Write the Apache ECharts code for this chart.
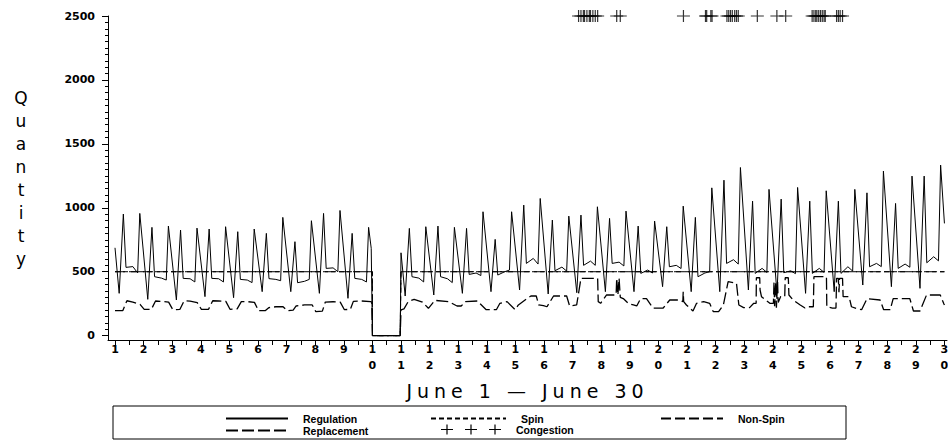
<!DOCTYPE html>
<html>
<head>
<meta charset="utf-8">
<script src="https://cdn.jsdelivr.net/npm/echarts@6/dist/echarts.min.js"></script>
<style>
  html, body { margin: 0; padding: 0; background: #fff; }
  #chart { width: 948px; height: 440px; }
  /* wide tracking for the x axis title, like the original */
  #chart text[style*="19px"] { letter-spacing: 5px; }
</style>
</head>
<body>
<div id="chart"></div>
<script>
// day labels on the x axis
const days = [1,2,3,4,5,6,7,8,9,10,11,12,13,14,15,16,17,18,19,20,21,22,23,24,25,26,27,28,29,30];
const yMajor = [0, 500, 1000, 1500, 2000, 2500];

// Regulation: key hours of the daily shape and the value read at each hour
// (night trough, morning peak, start of day plateau, plateau middle, plateau end, evening peak)
const regHours = [3.5, 7, 9.2, 15, 19, 20.8];
const regDays = [1,2,3,4,5,6,7,8,9,11,12,13,14,15,16,17,18,19,20,21,22,23,24,25,26,27,28,29];
const regRows = [
  [331, 951, 534, 540, 490, 956],
  [284, 847, 461, 450, 435, 857],
  [279, 826, 448, 445, 420, 841],
  [305, 834, 448, 445, 420, 852],
  [297, 813, 440, 435, 415, 834],
  [344, 800, 446, 440, 430, 925],
  [344, 735, 414, 425, 440, 899],
  [331, 956, 526, 530, 500, 979],
  [292, 800, 448, 440, 420, 847],
  [310, 839, 461, 450, 420, 852],
  [318, 857, 461, 445, 415, 847],
  [331, 839, 479, 490, 470, 969],
  [344, 753, 474, 500, 513, 969],
  [357, 1021, 565, 604, 560, 1073],
  [326, 904, 508, 536, 505, 935],
  [336, 943, 550, 583, 550, 1008],
  [344, 917, 565, 575, 545, 974],
  [344, 857, 487, 513, 490, 896],
  [383, 852, 539, 550, 525, 1013],
  [344, 925, 461, 490, 500, 1156],
  [344, 1216, 565, 594, 560, 1315],
  [357, 1052, 487, 526, 495, 1144],
  [331, 1068, 492, 507, 485, 1159],
  [331, 1052, 487, 526, 495, 1133],
  [344, 1052, 487, 539, 505, 1144],
  [396, 1117, 539, 565, 540, 1287],
  [383, 1034, 526, 560, 535, 1248],
  [370, 1248, 570, 617, 585, 1334]
];
// [day, hour, value] points outside the regular shape (start, outage on day 10, end)
const regExtra = [[1, 0, 687], [9, 23, 683], [10, 0, 0], [10, 23.3, 0], [11, 0, 648], [30, 0, 878]];

// Spin and Non-Spin requirement [day, hour, value]
const spinPts = [[1, 0, 500], [10, 0, 500], [10, 0.05, 0], [10, 23.3, 0], [11, 0, 500], [30, 0, 500]];
const nonSpinPts = [[1, 0, 500], [10, 0, 500], [10, 0.05, 0], [10, 23.3, 0], [11, 0, 500], [30, 0, 500]];

// Replacement [day, hour, value]
const repPts = [
  [1,0,195],[1,6.5,195],[1,10,273],[1,15,262],[1,21,245],
  [2,0.5,206],[2,6.5,206],[2,10,271],[2,15,268],[2,21,262],
  [3,0.5,203],[3,6.5,206],[3,10,273],[3,15,270],[3,21,258],
  [4,0.5,206],[4,6.5,206],[4,10,273],[4,15,271],[4,21,268],
  [5,0.5,206],[5,6.5,210],[5,10,266],[5,15,266],[5,21,260],
  [6,0.5,195],[6,6,195],[6,9,219],[6,15,226],[6,21,226],
  [7,0.5,195],[7,5.5,200],[7,8,232],[7,15,240],[7,21.5,240],
  [8,0.5,188],[8,6,192],[8,8.5,263],[8,15,265],[8,21,262],
  [9,0.5,203],[9,5.5,206],[9,8,268],[9,15,271],[9,22.5,266],[9,23.5,262],
  [10,0,0],[10,23.3,0],
  [11,0,201],[11,2.5,210],[11,6,266],[11,11,284],[11,18,262],[11,23,214],
  [12,4.5,276],[12,16,266],[12,23,232],
  [13,2.5,232],[13,6,266],[13,16,271],[13,23.5,203],
  [14,8,203],[14,11,253],[14,17,266],[14,23.8,203],
  [15,2.5,240],[15,9.5,289],[15,13,310],[15,17.5,310],[15,19.5,240],[15,23.5,235],
  [16,2.5,226],[16,8,310],[16,19,310],[16,21.5,232],
  [17,3.4,240],[17,7,448],[17,21,448],[17,21.5,266],[17,23.5,253],
  [18,4.5,318],[18,12.5,318],[18,13,448],[18,14,318],[18,15,448],[18,16,300],[18,18.5,290],[18,23,250],
  [19,3,240],[19,5.8,232],[19,9,289],[19,14,289],[19,19.5,216],
  [20,4,216],[20,9.5,279],[20,18,279],[20,20.5,266],[20,20.8,344],[20,21.2,266],[20,23.5,240],
  [21,5,193],[21,8,253],[21,14,266],[21,19,253],[21,22,188],
  [22,2.5,188],[22,6.5,240],[22,10.5,422],[22,17.5,410],[22,19.5,240],[22,23.5,219],
  [23,4.5,219],[23,8,253],[23,10,253],[23,10.2,453],[23,13,453],[23,13.3,357],[23,14.5,305],[23,21.5,253],
  [24,0.5,253],[24,1,420],[24,1.5,230],[24,2.5,420],[24,3,219],[24,4,420],[24,4.5,260],[24,6.5,305],
  [24,10,305],[24,10.4,453],[24,13,453],[24,13.5,318],[24,17,279],[24,23,240],
  [25,3,216],[25,5,226],[25,10,226],[25,10.5,461],[25,21,461],[25,21.3,226],
  [26,2,216],[26,5,216],[26,5.5,448],[26,7,448],[26,7.5,340],[26,8,448],[26,10.5,448],[26,11,305],
  [26,16,305],[26,18,226],[26,23,210],
  [27,2.5,203],[27,7,289],[27,18,279],[27,21,203],
  [28,2.5,203],[28,5,289],[28,19,289],[28,22,193],
  [29,3.5,193],[29,9,318],[29,20.5,318],[29,23.5,250],[30,0,240]
];

// Congestion hours [day, hour], plotted at the top of the axis
const conLevel = 2500;
const conPts = [
  [17,5],[17,7],[17,9],[17,10],[17,12],[17,14],[17,15],[17,17],[17,19],[17,21],
  [18,13],[18,16],
  [20,21],
  [21,15.5],[21,16.5],[21,20],[21,21],
  [22,9.5],[22,11],[22,12.5],[22,14],[22,16],[22,17.5],[22,19],
  [23,11],
  [24,3.4],[24,10.8],
  [25,9],[25,10.5],[25,12],[25,13],[25,14.5],[25,16],[25,17.5],[25,19],[25,20],
  [26,5.5],[26,7],[26,8.5],[26,10.5]
];

const toX = (d, h) => d + h / 24;
const regData = regExtra.map(p => [toX(p[0], p[1]), p[2]]);
regDays.forEach((d, i) => {
  regHours.forEach((h, j) => regData.push([toX(d, h), regRows[i][j]]));
});
regData.sort((a, b) => a[0] - b[0]);
const pts = arr => arr.map(p => [toX(p[0], p[1]), p[2]]);
const conData = conPts.map(p => [toX(p[0], p[1]), conLevel]);

const halfDays = days.flatMap(d => d < 30 ? [d, d + 0.5] : [d]);
const yMinor = [];
for (let v = 0; v <= 2500; v += 50) yMinor.push(v);

const plusPath = 'path://M0,5.4h13v1.2h-13z M5.9,0h1.2v12h-1.2z';
const plus3Path = 'path://M0,4.4h12v1.2h-12z M5.4,0h1.2v10h-1.2z M24,4.4h12v1.2h-12z M29.4,0h1.2v10h-1.2z M48,4.4h12v1.2h-12z M53.4,0h1.2v10h-1.2z';

const tickFont = { fontFamily: 'DejaVu Sans', fontWeight: 'bold', fontSize: 11, color: '#000' };
const legendText = { fontFamily: 'Liberation Sans', fontWeight: 'bold', fontSize: 10.5, lineHeight: 11, color: '#000', padding: [0, 0, 0, 10] };
const legendBase = {
  orient: 'horizontal', padding: 0, itemHeight: 8, itemWidth: 62, selectedMode: false,
  textStyle: legendText, itemStyle: { opacity: 0 }
};

const chart = echarts.init(document.getElementById('chart'), null, { renderer: 'svg' });
chart.setOption({
  animation: false,
  backgroundColor: '#fff',
  grid: { left: 108, right: 1, top: 16, bottom: 100, outerBoundsMode: 'none' },
  xAxis: {
    type: 'value', min: 0.755, max: 30.09,
    axisLine: { show: true, onZero: false, lineStyle: { color: '#000', width: 1 } },
    axisTick: { show: true, customValues: halfDays, length: 5, lineStyle: { color: '#000', width: 1 } },
    axisLabel: {
      customValues: days, margin: 1, lineHeight: 16, ...tickFont,
      formatter: v => String(v).split('').join('\n')
    },
    splitLine: { show: false },
    name: 'June 1 — June 30', nameLocation: 'middle', nameGap: 41,
    nameTextStyle: { fontFamily: 'DejaVu Sans', fontSize: 19, color: '#000' }
  },
  yAxis: [{
    type: 'value', min: -34, max: 2500,
    axisLine: { show: true, onZero: false, lineStyle: { color: '#000', width: 1 } },
    axisTick: { show: true, customValues: yMajor, length: 6, lineStyle: { color: '#000', width: 1 } },
    axisLabel: { customValues: yMajor, margin: 13, ...tickFont, formatter: v => String(v) },
    splitLine: { show: false },
    name: 'Q\nu\na\nn\nt\ni\nt\ny', nameLocation: 'middle', nameGap: 87, nameRotate: 0,
    nameTextStyle: {
      fontFamily: 'DejaVu Sans', fontSize: 17, lineHeight: 23, color: '#000',
      align: 'center', verticalAlign: 'middle', padding: [10, 0, 0, 0]
    }
  }, {
    type: 'value', min: -34, max: 2500, position: 'left',
    axisLine: { show: false },
    axisTick: { show: true, customValues: yMinor, length: 3, lineStyle: { color: '#000', width: 1 } },
    axisLabel: { show: false },
    splitLine: { show: false }
  }],
  legend: [
    { ...legendBase, data: ['Regulation'], left: 225, top: 413 },
    { ...legendBase, data: ['Spin'], left: 430, top: 413, itemWidth: 75 },
    { ...legendBase, data: ['Non-Spin'], left: 660, top: 413 },
    { ...legendBase, data: ['Replacement'], left: 225, top: 425 },
    {
      ...legendBase, data: [{ name: 'Congestion', icon: plus3Path }], left: 441, top: 424,
      itemWidth: 60, itemHeight: 10, itemStyle: { opacity: 1 }
    }
  ],
  graphic: [
    {
      type: 'rect', silent: true,
      shape: { x: 113, y: 406, width: 733, height: 33 },
      style: { fill: 'none', stroke: '#000', lineWidth: 1 }
    }
  ],
  series: [
    {
      name: 'Regulation', type: 'line', data: regData, symbol: 'none',
      lineStyle: { color: '#000', width: 1 }, itemStyle: { color: '#000' }
    },
    {
      name: 'Spin', type: 'line', data: pts(spinPts), symbol: 'none',
      lineStyle: { color: '#000', width: 1, type: [5, 3] }, itemStyle: { color: '#000' }
    },
    {
      name: 'Non-Spin', type: 'line', data: pts(nonSpinPts), symbol: 'none',
      lineStyle: { color: '#000', width: 1, type: [10, 4] }, itemStyle: { color: '#000' }
    },
    {
      name: 'Replacement', type: 'line', data: pts(repPts), symbol: 'none',
      lineStyle: { color: '#000', width: 1.3, type: [12, 4] }, itemStyle: { color: '#000' }
    },
    {
      name: 'Congestion', type: 'scatter', data: conData,
      symbol: plusPath, symbolSize: [13, 12], itemStyle: { color: '#000' }
    }
  ]
});
// the stacked axis title sits a few pixels lower in the original
chart.setOption({ yAxis: [{ nameGap: 87, nameTextStyle: { padding: [22, 0, 0, 0] } }, {}] });
</script>
</body>
</html>
